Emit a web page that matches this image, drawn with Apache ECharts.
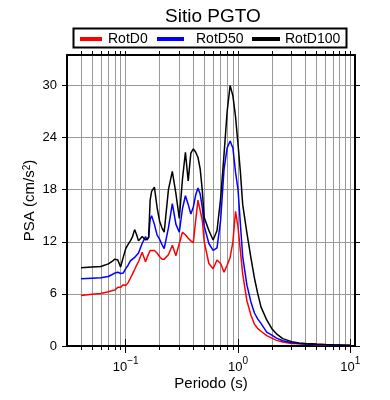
<!DOCTYPE html>
<html>
<head>
<meta charset="utf-8">
<script src="https://cdn.jsdelivr.net/npm/echarts@6/dist/echarts.min.js"></script>
<style>
  html, body { margin: 0; padding: 0; background: #fff; }
  #chart { width: 390px; height: 400px; }
</style>
</head>
<body>
<div id="chart"></div>
<script>
// periodos (s)
var periods = [0.04, 0.05, 0.06, 0.07, 0.075, 0.08, 0.085, 0.09, 0.095, 0.1,
  0.105, 0.11, 0.115, 0.12, 0.125, 0.13, 0.14, 0.15, 0.155, 0.16,
  0.165, 0.17, 0.18, 0.19, 0.2, 0.21, 0.22, 0.24, 0.26, 0.28,
  0.3, 0.32, 0.34, 0.36, 0.38, 0.4, 0.42, 0.44, 0.46, 0.48,
  0.5, 0.55, 0.6, 0.65, 0.7, 0.75, 0.8, 0.85, 0.9, 0.95,
  1.0, 1.05, 1.1, 1.2, 1.3, 1.4, 1.5, 1.6, 1.8, 2.0,
  2.2, 2.5, 3.0, 3.5, 4, 5, 6, 7, 8, 9, 10];

var rotD0 = [5.8, 5.95, 6.05, 6.25, 6.35, 6.45, 6.75, 6.75, 7.05, 6.95,
  7.3, 7.8, 8.3, 8.8, 9.3, 9.7, 10.8, 9.7, 10.2, 10.6,
  11.0, 11.0, 11.0, 10.7, 10.3, 10.0, 10.0, 10.5, 11.6, 10.4,
  11.8, 13.1, 12.8, 12.4, 12.1, 11.9, 14.5, 16.8, 15.6, 14.5,
  12.0, 9.5, 8.9, 9.9, 9.5, 8.5, 9.3, 10.2, 12.0, 15.5,
  13.7, 10.9, 8.3, 5.2, 3.6, 2.5, 2.0, 1.7, 1.2, 0.9,
  0.65, 0.45, 0.3, 0.25, 0.2, 0.15, 0.12, 0.1, 0.08, 0.07, 0.06];

var rotD50 = [7.73, 7.8, 7.85, 8.0, 8.2, 8.4, 8.5, 8.35, 8.4, 8.9,
  9.3, 9.8, 10.0, 10.2, 10.4, 10.7, 11.8, 12.6, 12.2, 12.5,
  14.6, 15.0, 14.0, 12.8, 12.3, 11.7, 11.2, 13.6, 16.4, 14.0,
  13.1, 15.8, 17.3, 16.3, 15.2, 16.0, 17.4, 18.2, 17.5, 16.0,
  13.8, 11.8, 11.0, 11.3, 14.5, 20.3, 22.8, 23.6, 22.8, 20.0,
  18.0, 14.0, 10.3, 7.0, 5.1, 3.8, 3.1, 2.6, 1.6, 1.25,
  0.9, 0.6, 0.38, 0.3, 0.24, 0.18, 0.14, 0.11, 0.09, 0.08, 0.07];

var rotD100 = [9.0, 9.1, 9.15, 9.45, 9.7, 10.0, 9.9, 9.1, 10.2, 11.2,
  11.7, 12.1, 12.6, 13.4, 12.8, 12.1, 12.6, 12.2, 12.4, 12.5,
  16.8, 17.8, 18.3, 16.0, 14.4, 13.6, 13.1, 18.0, 20.1, 17.5,
  14.7, 19.2, 22.3, 19.0, 22.2, 22.7, 22.3, 21.7, 20.4, 18.0,
  14.8, 13.3, 12.2, 13.3, 17.0, 22.0, 27.0, 30.0, 28.8, 26.4,
  23.2, 20.0, 16.3, 13.0, 10.2, 7.8, 6.0, 4.5, 3.0, 2.0,
  1.4, 0.85, 0.5, 0.36, 0.3, 0.22, 0.17, 0.14, 0.12, 0.1, 0.09];

var seriesNames = ['RotD0', 'RotD50', 'RotD100'];
var seriesColors = ['#ff0000', '#0000ff', '#000000'];

// marcas de los ejes
var xMajor = [0.1, 1, 10];
var xMinor = [0.04, 0.05, 0.06, 0.07, 0.08, 0.09, 0.1,
  0.2, 0.3, 0.4, 0.5, 0.6, 0.7, 0.8, 0.9, 1,
  2, 3, 4, 5, 6, 7, 8, 9, 10];
var yTicks = [0, 6, 12, 18, 24, 30];

var font = 'Liberation Sans';

function pairs(vals) {
  return periods.map(function (p, i) { return [p, vals[i]]; });
}

function xAxisBase(pos, tickLen, ticks, extra) {
  var ax = {
    type: 'log',
    logBase: 10,
    position: pos,
    min: 0.03,
    max: 11,
    axisLine: { show: false },
    axisTick: { show: true, inside: false, length: tickLen, customValues: ticks,
      lineStyle: { color: '#000', width: 1 } },
    axisLabel: { show: false },
    splitLine: { show: false }
  };
  for (var k in extra) ax[k] = extra[k];
  return ax;
}

var chart = echarts.init(document.getElementById('chart'), null, { renderer: 'canvas' });

var option = {
  backgroundColor: '#fff',
  animation: false,
  textStyle: { fontFamily: font },
  title: {
    text: 'Sitio PGTO',
    left: 160,
    top: 2,
    textStyle: { fontFamily: font, fontSize: 19, fontWeight: 'normal', color: '#000' }
  },
  legend: [
    { data: [seriesNames[0]], left: 80, top: 32, padding: 0, icon: 'rect',
      itemWidth: 22, itemHeight: 4,
      textStyle: { fontFamily: font, fontSize: 14, color: '#000', padding: [0, 0, 0, 1] } },
    { data: [seriesNames[1]], left: 157, top: 32, padding: 0, icon: 'rect',
      itemWidth: 27, itemHeight: 4,
      textStyle: { fontFamily: font, fontSize: 14, color: '#000', padding: [0, 0, 0, 7] } },
    { data: [seriesNames[2]], left: 252, top: 32, padding: 0, icon: 'rect',
      itemWidth: 28, itemHeight: 4,
      textStyle: { fontFamily: font, fontSize: 14, color: '#000', padding: [0, 0, 0, 0] } }
  ],
  graphic: [{
    type: 'rect',
    shape: { x: 73.5, y: 28.5, width: 273, height: 19 },
    style: { fill: 'transparent', stroke: '#000', lineWidth: 2 },
    z: 10
  }],
  grid: { left: 67, right: 35, top: 55, bottom: 54, outerBoundsMode: 'none' },
  xAxis: [
    xAxisBase('bottom', 4, xMinor, {
      axisLine: { show: true, onZero: false, lineStyle: { color: '#000', width: 2 } },
      splitLine: { show: true, lineStyle: { color: '#999', width: 1 } },
      axisLabel: {
        show: true, customValues: xMajor, margin: 10,
        fontFamily: font, fontSize: 13, color: '#000',
        formatter: function (v) {
          var e = Math.round(Math.log10(v));
          return '{b|10}{s|' + (e < 0 ? '\u2212' + (-e) : e) + '}';
        },
        rich: {
          b: { fontFamily: font, fontSize: 13, color: '#000', lineHeight: 18, verticalAlign: 'bottom' },
          s: { fontFamily: font, fontSize: 10, color: '#000', lineHeight: 11, verticalAlign: 'top' }
        }
      },
      name: 'Periodo (s)',
      nameLocation: 'middle',
      nameGap: 30,
      nameMoveOverlap: false,
      nameTextStyle: { fontFamily: font, fontSize: 15, color: '#000' }
    }),
    xAxisBase('bottom', 7, xMajor, {}),
    xAxisBase('top', 4, xMinor, {
      axisLine: { show: true, onZero: false, lineStyle: { color: '#000', width: 2 } }
    }),
    xAxisBase('top', 7, xMajor, {})
  ],
  yAxis: [
    {
      type: 'value',
      position: 'left',
      min: 0,
      max: 33.5,
      interval: 6,
      axisLine: { show: true, onZero: false, lineStyle: { color: '#000', width: 2 } },
      axisTick: { show: true, length: 5, customValues: yTicks, lineStyle: { color: '#000' } },
      axisLabel: { show: true, customValues: yTicks, margin: 10, fontFamily: font, fontSize: 13, color: '#000' },
      splitLine: { show: true, lineStyle: { color: '#999', width: 1 } },
      name: 'PSA (cm/s{s|2})',
      nameLocation: 'middle',
      nameGap: 30,
      nameMoveOverlap: false,
      nameTextStyle: {
        fontFamily: font, fontSize: 15, color: '#000',
        rich: {
          s: { fontFamily: font, fontSize: 10, color: '#000', verticalAlign: 'top', lineHeight: 10 }
        }
      }
    },
    {
      type: 'value',
      position: 'right',
      min: 0,
      max: 33.5,
      interval: 6,
      axisLine: { show: true, onZero: false, lineStyle: { color: '#000', width: 2 } },
      axisTick: { show: true, length: 5, customValues: yTicks, lineStyle: { color: '#000' } },
      axisLabel: { show: false },
      splitLine: { show: false }
    }
  ],
  series: [rotD0, rotD50, rotD100].map(function (vals, i) {
    return {
      name: seriesNames[i],
      type: 'line',
      xAxisIndex: 0,
      yAxisIndex: 0,
      data: pairs(vals),
      showSymbol: false,
      symbol: 'none',
      smooth: false,
      color: seriesColors[i],
      lineStyle: { color: seriesColors[i], width: 1.5 },
      z: 3 + i
    };
  })
};

chart.setOption(option);
</script>
</body>
</html>
